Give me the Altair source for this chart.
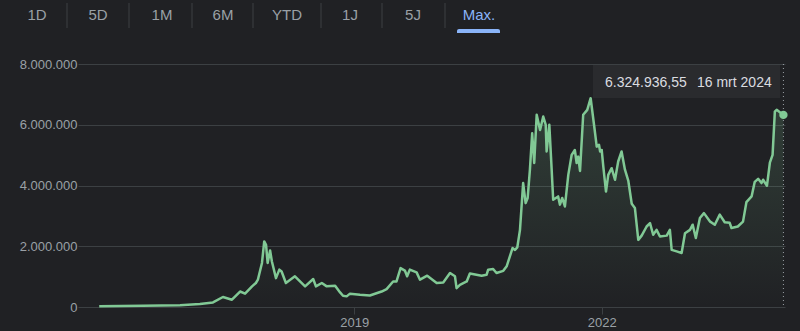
import altair as alt
import pandas as pd
import datetime as dt

# ---------------- data ----------------
dates = [
    "2015-11-28", "2016-06-08", "2016-11-20", "2017-02-16", "2017-04-15", "2017-05-29",
    "2017-07-08", "2017-08-13", "2017-09-04", "2017-10-05", "2017-10-22", "2017-10-31",
    "2017-11-18", "2017-11-28", "2017-12-06", "2017-12-13", "2017-12-24", "2018-01-01",
    "2018-01-19", "2018-02-03", "2018-02-13", "2018-03-04", "2018-04-13", "2018-05-28",
    "2018-07-03", "2018-07-15", "2018-08-10", "2018-09-01", "2018-10-08", "2018-10-30",
    "2018-11-12", "2018-11-28", "2018-12-13", "2019-01-26", "2019-03-11", "2019-05-02",
    "2019-05-24", "2019-06-22", "2019-07-07", "2019-07-25", "2019-08-13", "2019-08-23",
    "2019-09-04", "2019-10-04", "2019-10-19", "2019-11-20", "2020-01-01", "2020-01-30",
    "2020-02-29", "2020-03-22", "2020-03-29", "2020-04-13", "2020-05-13", "2020-05-27",
    "2020-07-18", "2020-08-09", "2020-08-16", "2020-09-07", "2020-09-22", "2020-10-22",
    "2020-11-06", "2020-11-13", "2020-12-02", "2020-12-13", "2020-12-23", "2021-01-04",
    "2021-01-18", "2021-01-29", "2021-02-07", "2021-02-17", "2021-02-27", "2021-03-08",
    "2021-03-19", "2021-04-03", "2021-04-17", "2021-04-28", "2021-05-02", "2021-05-14",
    "2021-05-24", "2021-05-31", "2021-06-22", "2021-06-30", "2021-07-10", "2021-07-22",
    "2021-08-06", "2021-08-21", "2021-09-04", "2021-09-12", "2021-09-19", "2021-09-27",
    "2021-10-11", "2021-10-29", "2021-11-13", "2021-11-28", "2021-12-10", "2021-12-20",
    "2021-12-25", "2022-01-01", "2022-01-08", "2022-01-20", "2022-01-30", "2022-02-14",
    "2022-03-01", "2022-03-15", "2022-03-30", "2022-04-14", "2022-04-29", "2022-05-14",
    "2022-05-28", "2022-06-12", "2022-06-27", "2022-07-19", "2022-08-03", "2022-08-17",
    "2022-09-01", "2022-09-16", "2022-10-16", "2022-10-30", "2022-11-07", "2022-11-29",
    "2022-12-21", "2023-01-05", "2023-01-27", "2023-02-08", "2023-02-22", "2023-03-12",
    "2023-03-30", "2023-04-25", "2023-05-17", "2023-06-08", "2023-06-30", "2023-07-22",
    "2023-07-30", "2023-08-27", "2023-09-19", "2023-10-04", "2023-10-27", "2023-11-10",
    "2023-11-25", "2023-12-10", "2023-12-17", "2024-01-03", "2024-01-16", "2024-01-28",
    "2024-02-07", "2024-02-15", "2024-03-16",
]
values = [
    25000, 45000, 60000, 95000, 150000, 330000,
    240000, 510000, 440000, 680000, 790000, 900000,
    1450000, 2160000, 2050000, 1450000, 1860000, 1500000,
    950000, 1230000, 1170000, 790000, 1010000, 680000,
    920000, 680000, 790000, 680000, 700000, 480000,
    370000, 350000, 440000, 400000, 380000, 510000,
    590000, 840000, 840000, 1280000, 1200000, 1010000,
    1230000, 1140000, 900000, 1030000, 790000, 810000,
    1120000, 1010000, 620000, 730000, 840000, 1100000,
    1030000, 1060000, 1230000, 1250000, 1120000, 1190000,
    1340000, 1500000, 1940000, 1880000, 1960000, 2540000,
    4080000, 3420000, 3590000, 4520000, 5720000, 4740000,
    6330000, 5830000, 6270000, 6000000, 5120000, 6000000,
    4570000, 3530000, 3640000, 3370000, 3590000, 3310000,
    4350000, 5010000, 5170000, 4740000, 4950000, 4480000,
    6330000, 6490000, 6875000, 6000000, 5280000, 5340000,
    5120000, 5170000, 4630000, 3800000, 4350000, 4570000,
    4190000, 4790000, 5120000, 4520000, 4150000, 3400000,
    3260000, 2210000, 2350000, 2650000, 2760000, 2380000,
    2540000, 2320000, 2350000, 2540000, 1880000, 1830000,
    1780000, 2430000, 2540000, 2710000, 2270000, 2930000,
    3090000, 2820000, 2710000, 3040000, 2790000, 2770000,
    2600000, 2650000, 2810000, 3450000, 3640000, 4120000,
    4220000, 4080000, 4190000, 3990000, 4750000, 5010000,
    6430000, 6490000, 6324936.55,
]
y_ticks = [0, 2000000, 4000000, 6000000, 8000000]
x_tick_years = [2019, 2022]
tabs = ["1D", "5D", "1M", "6M", "YTD", "1J", "5J", "Max."]
active_tab = "Max."
months_nl = ["jan", "feb", "mrt", "apr", "mei", "jun", "jul", "aug", "sep", "okt", "nov", "dec"]

# ---------------- layout / style ----------------
LEFT, TOP, W, H = 78, 64, 707, 243
tab_x = [37, 98, 162, 223, 287, 350, 413, 479]
sep_x = [67, 129, 192, 253, 321, 382, 445]
BG = "#202124"
GRID = "#3c4043"
LABEL = "#9aa0a6"
GREEN = "#81c995"
BLUE = "#8ab4f8"
FONT = "Liberation Sans"

df = pd.DataFrame({"date": dates, "value": values})
last = df.tail(1).copy()

v = values[-1]
value_label = f"{v:,.2f}".replace(",", "X").replace(".", ",").replace("X", ".")
d = dt.date.fromisoformat(dates[-1])
date_label = f"{d.day} {months_nl[d.month - 1]} {d.year}"

one = pd.DataFrame({"k": [0]})

x_enc = alt.X(
    "date:T",
    scale=alt.Scale(
        type="utc",
        domain=[alt.DateTime(year=2015, month=8, date=26, utc=True),
                alt.DateTime(year=2024, month=3, date=23, utc=True)],
    ),
    axis=alt.Axis(
        values=[alt.DateTime(year=yy, month=1, date=1, utc=True) for yy in x_tick_years],
        format="%Y", title=None, grid=False, domain=False,
        tickSize=7, tickColor=GRID, labelColor=LABEL, labelFontSize=13,
        labelPadding=2, labelFont=FONT,
    ),
)
y_enc = alt.Y(
    "value:Q",
    scale=alt.Scale(domain=[0, 8000000], nice=False),
    axis=alt.Axis(
        values=y_ticks, format=",d", title=None, grid=True, gridColor=GRID,
        gridWidth=1, domain=False, ticks=False, labelPadding=1,
        labelColor=LABEL, labelFontSize=13, labelFont=FONT,
    ),
)

base = alt.Chart(df)
area = base.mark_area(
    color=alt.Gradient(
        gradient="linear",
        stops=[alt.GradientStop(color="rgba(129,201,149,0.18)", offset=0),
               alt.GradientStop(color="rgba(129,201,149,0)", offset=1)],
        x1=1, x2=1, y1=0, y2=1,
    )
).encode(x=x_enc, y=y_enc)
line = base.mark_line(color=GREEN, strokeWidth=2.5, strokeJoin="round").encode(x=x_enc, y=y_enc)

box = alt.Chart(one).mark_rect(color="#2a2b2e").encode(
    x=alt.value(515), x2=alt.value(702), y=alt.value(1), y2=alt.value(34)
)
txt1 = alt.Chart(one).mark_text(align="left", baseline="middle", fontSize=14,
                                color="#dadce0", font=FONT, text=value_label).encode(
    x=alt.value(527), y=alt.value(19))
txt2 = alt.Chart(one).mark_text(align="left", baseline="middle", fontSize=14,
                                color="#dadce0", font=FONT, text=date_label).encode(
    x=alt.value(619), y=alt.value(19))

rule = alt.Chart(last).mark_rule(color=LABEL, strokeDash=[1, 3], strokeWidth=1).encode(
    x=x_enc, y=alt.value(0), y2=alt.value(H)
)
dot = alt.Chart(last).mark_circle(size=70, color=GREEN, opacity=1).encode(x=x_enc, y=y_enc)

layers = [area, box, line, rule, dot, txt1, txt2]

for lab, px in zip(tabs, tab_x):
    layers.append(
        alt.Chart(one).mark_text(
            align="center", baseline="middle", fontSize=15, font=FONT, text=lab,
            color=BLUE if lab == active_tab else LABEL,
        ).encode(x=alt.value(px - LEFT), y=alt.value(15 - TOP))
    )
for px in sep_x:
    layers.append(
        alt.Chart(one).mark_rule(color=GRID, strokeWidth=1).encode(
            x=alt.value(px - LEFT), y=alt.value(3 - TOP), y2=alt.value(28 - TOP)
        )
    )
layers.append(
    alt.Chart(one).mark_rect(color=BLUE, cornerRadiusTopLeft=3, cornerRadiusTopRight=3).encode(
        x=alt.value(457 - LEFT), x2=alt.value(500 - LEFT),
        y=alt.value(29 - TOP), y2=alt.value(33 - TOP)
    )
)

chart = alt.layer(*layers).properties(
    width=W, height=H,
    autosize=alt.AutoSizeParams(type="none"),
    padding={"left": LEFT, "top": TOP, "right": 800 - LEFT - W, "bottom": 331 - TOP - H},
).configure(
    background=BG,
    font=FONT,
    locale={"number": {"decimal": ",", "thousands": ".", "grouping": [3],
                       "currency": ["€", ""]}},
).configure_view(stroke="transparent")

chart.save("out.html", embed_options={"renderer": "svg", "actions": False})
